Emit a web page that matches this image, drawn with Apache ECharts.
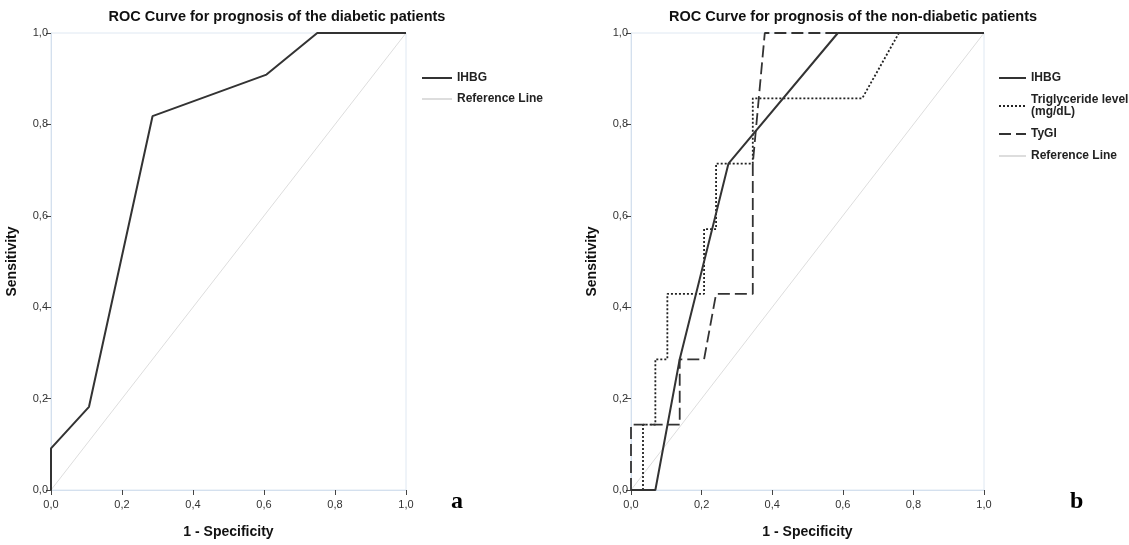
<!DOCTYPE html>
<html><head><meta charset="utf-8">
<script src="https://cdn.jsdelivr.net/npm/echarts@6/dist/echarts.min.js"></script>
<style>html,body{margin:0;padding:0;background:#fff}#c{width:1129px;height:545px}</style>
</head><body><div id="c"></div>
<script>
// Panel a (diabetic)
const aIHBG_x = [0, 0, 0.107, 0.286, 0.607, 0.75, 1];
const aIHBG_y = [0, 0.091, 0.182, 0.818, 0.909, 1, 1];
// Panel b (non-diabetic)
const bIHBG_x = [0, 0.069, 0.138, 0.276, 0.586, 1];
const bIHBG_y = [0, 0, 0.286, 0.714, 1, 1];
const bTG_x = [0, 0.034, 0.034, 0.069, 0.069, 0.103, 0.103, 0.207, 0.207, 0.241, 0.241, 0.345, 0.345, 0.655, 0.759, 1];
const bTG_y = [0, 0, 0.143, 0.143, 0.286, 0.286, 0.429, 0.429, 0.571, 0.571, 0.714, 0.714, 0.857, 0.857, 1, 1];
const bTyGI_x = [0, 0, 0.138, 0.138, 0.207, 0.241, 0.345, 0.345, 0.379, 1];
const bTyGI_y = [0, 0.143, 0.143, 0.286, 0.286, 0.429, 0.429, 0.714, 1, 1];
const refX = [0, 1];
const refY = [0, 1];
const titles = ['ROC Curve for prognosis of the diabetic patients', 'ROC Curve for prognosis of the non-diabetic patients'];
const panelLetters = ['a', 'b'];
const xName = '1 - Specificity';
const yName = 'Sensitivity';
const legendA = ['IHBG', 'Reference Line'];
const legendB = ['IHBG ', 'Triglyceride level\n(mg/dL)', 'TyGI', 'Reference Line '];

const pairs = (xs, ys) => xs.map((x, i) => [x, ys[i]]);
const FONT = '"Liberation Sans Narrow", "Liberation Sans", Arial, sans-serif';
const fmt = v => v.toFixed(1).replace('.', ',');
const dark = '#333333';
const refColor = '#dddddd';

function xAxis(gi) {
  return {
    gridIndex: gi, type: 'value', min: 0, max: 1, interval: 0.2,
    name: xName, nameLocation: 'middle', nameGap: 35,
    nameTextStyle: {fontFamily: FONT, fontSize: 14, fontWeight: 'bold', color: '#111'},
    axisLine: {show: true, lineStyle: {color: '#d4e0ee', width: 1}},
    axisTick: {show: true, inside: false, length: 5, lineStyle: {color: '#444'}},
    axisLabel: {formatter: fmt, fontFamily: FONT, fontSize: 11, color: '#333', margin: 9},
    splitLine: {show: false}
  };
}
function yAxis(gi) {
  return {
    gridIndex: gi, type: 'value', min: 0, max: 1, interval: 0.2,
    name: yName, nameLocation: 'middle', nameGap: 32, nameRotate: 90,
    nameTextStyle: {fontFamily: FONT, fontSize: 14, fontWeight: 'bold', color: '#111'},
    axisLine: {show: true, lineStyle: {color: '#d4e0ee', width: 1}},
    axisTick: {show: true, inside: false, length: 5, lineStyle: {color: '#444'}},
    axisLabel: {formatter: fmt, fontFamily: FONT, fontSize: 11, color: '#333', margin: 3},
    splitLine: {show: false}
  };
}
function line(name, xi, data, color, width, type) {
  return {
    name, type: 'line', xAxisIndex: xi, yAxisIndex: xi, data, symbol: 'none',
    lineStyle: {color, width, type}, itemStyle: {color}, animation: false,
    z: name.trim() === 'Reference Line' ? 1 : 3
  };
}
const legendText = {fontFamily: FONT, fontSize: 12, fontWeight: 'bold', color: '#222', lineHeight: 12};

const chart = echarts.init(document.getElementById('c'), null, {renderer: 'canvas'});
chart.setOption({
  animation: false,
  backgroundColor: '#fff',
  title: [
    {text: titles[0], left: 272, top: 4, textAlign: 'center', textStyle: {fontFamily: FONT, fontSize: 14.5, fontWeight: 'bold', color: '#111'}},
    {text: titles[1], left: 848, top: 4, textAlign: 'center', textStyle: {fontFamily: FONT, fontSize: 14.5, fontWeight: 'bold', color: '#111'}},
    {text: panelLetters[0], left: 446, top: 485, textStyle: {fontFamily: '"Liberation Serif", "DejaVu Serif", serif', fontSize: 24, fontWeight: 'bold', color: '#000'}},
    {text: panelLetters[1], left: 1065, top: 485, textStyle: {fontFamily: '"Liberation Serif", "DejaVu Serif", serif', fontSize: 24, fontWeight: 'bold', color: '#000'}}
  ],
  grid: [
    {left: 51, right: 723, top: 33, bottom: 55, show: true, borderColor: '#dfe8f2', borderWidth: 1},
    {left: 631, right: 145, top: 33, bottom: 55, show: true, borderColor: '#dfe8f2', borderWidth: 1}
  ],
  xAxis: [xAxis(0), xAxis(1)],
  yAxis: [yAxis(0), yAxis(1)],
  legend: [
    {data: legendA, orient: 'vertical', left: 416, top: 67, itemWidth: 30, itemHeight: 12, itemGap: 9,
     textStyle: legendText, selectedMode: false, itemStyle: {opacity: 0}},
    {data: legendB, orient: 'vertical', left: 993, top: 67, itemWidth: 27, itemHeight: 12, itemGap: 10,
     textStyle: legendText, selectedMode: false, itemStyle: {opacity: 0}}
  ],
  series: [
    line('Reference Line', 0, pairs(refX, refY), refColor, 1, 'solid'),
    line('IHBG', 0, pairs(aIHBG_x, aIHBG_y), dark, 2, 'solid'),
    line('Reference Line ', 1, pairs(refX, refY), refColor, 1, 'solid'),
    line('Triglyceride level\n(mg/dL)', 1, pairs(bTG_x, bTG_y), '#222', 1.8, [2, 2]),
    line('TyGI', 1, pairs(bTyGI_x, bTyGI_y), dark, 1.8, [12, 5]),
    line('IHBG ', 1, pairs(bIHBG_x, bIHBG_y), dark, 2, 'solid')
  ]
});
</script></body></html>
